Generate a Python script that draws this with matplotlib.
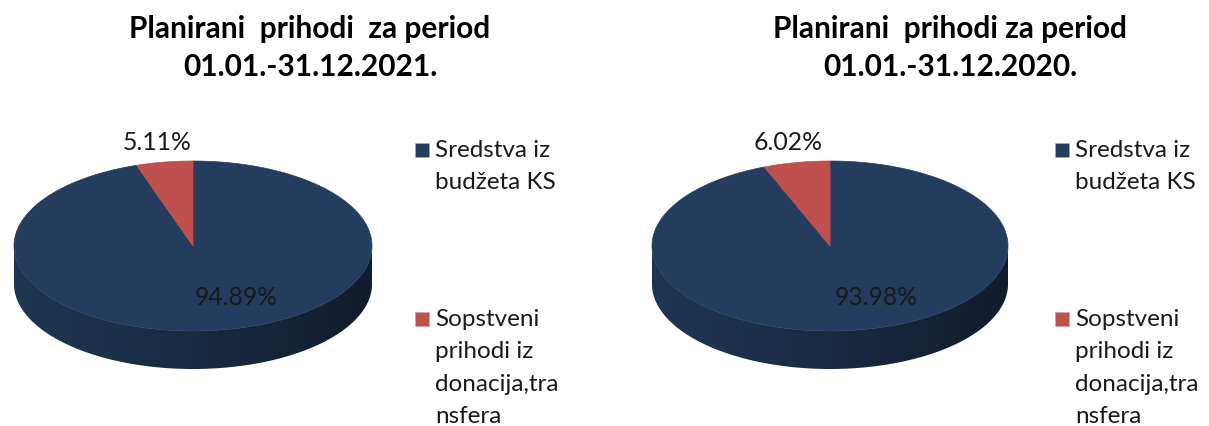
import numpy as np
import matplotlib
matplotlib.use("Agg")
import matplotlib.pyplot as plt
from matplotlib.patches import Polygon, Rectangle
from matplotlib.colors import to_rgb

# data
titles = ["Planirani  prihodi  za period\n01.01.-31.12.2021.",
          "Planirani  prihodi za period\n01.01.-31.12.2020."]
categories = ["Sredstva iz\nbudžeta KS",
              "Sopstveni\nprihodi iz\ndonacija,tra\nnsfera"]
shares_2021 = [94.89, 5.11]
shares_2020 = [93.98, 6.02]
colors = ["#243D5E", "#C0504D"]

plt.rcParams['font.family'] = ['Lato', 'DejaVu Sans']

fig = plt.figure(figsize=(12.09, 4.27), dpi=100)
ax = fig.add_axes([0, 0, 1, 1])
ax.set_xlim(0, 1209)
ax.set_ylim(427, 0)
ax.axis("off")


def pie3d(ax, values, cx, cy, a, b, depth):
    vals = np.array(values, dtype=float)
    # excel style: start at 12 o'clock, go clockwise
    edges = 90 - np.concatenate([[0], np.cumsum(vals)]) / vals.sum() * 360

    def slice_of(th):
        for k in range(len(vals)):
            lo, hi = edges[k + 1], edges[k]
            t = th
            while t > hi:
                t -= 360
            while t < lo:
                t += 360
            if lo <= t <= hi:
                return k
        return 0

    # side wall (front half only), gradient image clipped to each slice's part
    ths = np.linspace(180, 360, 361)
    owner = [slice_of(t) for t in ths]
    runs = []
    start = 0
    for i in range(1, len(ths)):
        if owner[i] != owner[start] or i == len(ths) - 1:
            runs.append((owner[start], ths[start:i + 1]))
            start = i
    xs = np.linspace(-1, 1, 256)
    fac = 0.86 - 0.40 * ((xs + 1) / 2) ** 1.3
    for k, tr in runs:
        t = np.radians(tr)
        top = np.column_stack([cx + a * np.cos(t), cy - b * np.sin(t)])
        bot = top[::-1] + [0, depth]
        poly = Polygon(np.vstack([top, bot]), closed=True, facecolor="none",
                       edgecolor="none")
        ax.add_patch(poly)
        rgb = np.array(to_rgb(colors[k]))
        img = (fac[:, None] * rgb[None, :])[None, :, :]
        im = ax.imshow(img, extent=[cx - a, cx + a, cy + depth + b, cy - b],
                       aspect="auto", interpolation="bilinear", zorder=1)
        im.set_clip_path(poly)
    # top face
    for k in range(len(vals)):
        th = np.radians(np.linspace(edges[k], edges[k + 1], 200))
        pts = np.column_stack([cx + a * np.cos(th), cy - b * np.sin(th)])
        pts = np.vstack([[cx, cy], pts])
        ax.add_patch(Polygon(pts, closed=True, facecolor=colors[k],
                             edgecolor=colors[k], lw=0.5, zorder=2))
    # labels
    for k in range(len(vals)):
        mid = np.radians((edges[k] + edges[k + 1]) / 2)
        pct = "%.2f%%" % vals[k]
        if vals[k] > 50:
            x = cx + 0.6 * a * np.cos(mid) + 26
            y = cy - 0.6 * b * np.sin(mid)
        else:
            x = cx + 1.25 * a * np.cos(mid)
            y = cy - 1.25 * b * np.sin(mid)
        ax.text(x, y, pct, ha="center", va="center", fontsize=17.8,
                color="#1a1a1a", zorder=3)


def legend(ax, x, y_tops):
    for k, lab in enumerate(categories):
        ax.add_patch(Rectangle((x, y_tops[k] - 7), 14, 14, facecolor=colors[k],
                               edgecolor="#b0b0b0", lw=0.4))
        ax.text(x + 20, y_tops[k] - 11, lab, ha="left", va="top", fontsize=17.5,
                color="#1a1a1a", linespacing=1.67)


pie3d(ax, shares_2021, 193, 247, 179, 85, 38)
pie3d(ax, shares_2020, 830, 247, 178, 85, 38)

ax.text(310, 48, titles[0], ha="center", va="center", fontsize=21.5,
        fontweight="bold", linespacing=1.45)
ax.text(950, 48, titles[1], ha="center", va="center", fontsize=21.5,
        fontweight="bold", linespacing=1.45)

legend(ax, 415, [151, 320])
legend(ax, 1055, [151, 320])

fig.savefig("out.png", dpi=100)
